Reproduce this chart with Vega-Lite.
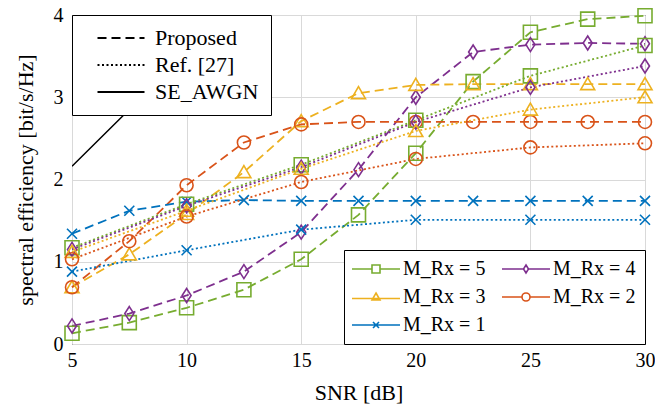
{
  "$schema": "https://vega.github.io/schema/vega-lite/v6.json",
  "width": 573,
  "height": 329,
  "autosize": "none",
  "padding": {"left": 72, "top": 15, "right": 10, "bottom": 70},
  "background": "white",
  "config": {
    "view": {"stroke": "black", "strokeWidth": 1},
    "font": "Liberation Serif, DejaVu Serif, serif",
    "axis": {
      "labelFont": "Liberation Serif, DejaVu Serif, serif", "labelFontSize": 20, "labelColor": "black",
      "titleFont": "Liberation Serif, DejaVu Serif, serif", "titleFontSize": 22, "titleFontWeight": "normal", "titleColor": "black",
      "gridColor": "#d9d9d9", "gridWidth": 1, "domain": false, "ticks": false
    },
    "legend": {"labelFont": "Liberation Serif, DejaVu Serif, serif", "labelColor": "black"}
  },
  "resolve": {"scale": {"color": "independent", "shape": "independent"}},
  "data": {"values": [
    {"snr": 5, "se": 0.13, "M": "M_Rx = 5", "method": "Proposed"},
    {"snr": 7.5, "se": 0.26, "M": "M_Rx = 5", "method": "Proposed"},
    {"snr": 10, "se": 0.44, "M": "M_Rx = 5", "method": "Proposed"},
    {"snr": 12.5, "se": 0.66, "M": "M_Rx = 5", "method": "Proposed"},
    {"snr": 15, "se": 1.03, "M": "M_Rx = 5", "method": "Proposed"},
    {"snr": 17.5, "se": 1.57, "M": "M_Rx = 5", "method": "Proposed"},
    {"snr": 20, "se": 2.32, "M": "M_Rx = 5", "method": "Proposed"},
    {"snr": 22.5, "se": 3.19, "M": "M_Rx = 5", "method": "Proposed"},
    {"snr": 25, "se": 3.79, "M": "M_Rx = 5", "method": "Proposed"},
    {"snr": 27.5, "se": 3.95, "M": "M_Rx = 5", "method": "Proposed"},
    {"snr": 30, "se": 3.99, "M": "M_Rx = 5", "method": "Proposed"},
    {"snr": 5, "se": 0.22, "M": "M_Rx = 4", "method": "Proposed"},
    {"snr": 7.5, "se": 0.37, "M": "M_Rx = 4", "method": "Proposed"},
    {"snr": 10, "se": 0.59, "M": "M_Rx = 4", "method": "Proposed"},
    {"snr": 12.5, "se": 0.88, "M": "M_Rx = 4", "method": "Proposed"},
    {"snr": 15, "se": 1.36, "M": "M_Rx = 4", "method": "Proposed"},
    {"snr": 17.5, "se": 2.12, "M": "M_Rx = 4", "method": "Proposed"},
    {"snr": 20, "se": 3.0, "M": "M_Rx = 4", "method": "Proposed"},
    {"snr": 22.5, "se": 3.55, "M": "M_Rx = 4", "method": "Proposed"},
    {"snr": 25, "se": 3.64, "M": "M_Rx = 4", "method": "Proposed"},
    {"snr": 27.5, "se": 3.66, "M": "M_Rx = 4", "method": "Proposed"},
    {"snr": 30, "se": 3.65, "M": "M_Rx = 4", "method": "Proposed"},
    {"snr": 5, "se": 0.69, "M": "M_Rx = 3", "method": "Proposed"},
    {"snr": 7.5, "se": 1.09, "M": "M_Rx = 3", "method": "Proposed"},
    {"snr": 10, "se": 1.58, "M": "M_Rx = 3", "method": "Proposed"},
    {"snr": 12.5, "se": 2.09, "M": "M_Rx = 3", "method": "Proposed"},
    {"snr": 15, "se": 2.71, "M": "M_Rx = 3", "method": "Proposed"},
    {"snr": 17.5, "se": 3.05, "M": "M_Rx = 3", "method": "Proposed"},
    {"snr": 20, "se": 3.15, "M": "M_Rx = 3", "method": "Proposed"},
    {"snr": 22.5, "se": 3.16, "M": "M_Rx = 3", "method": "Proposed"},
    {"snr": 25, "se": 3.16, "M": "M_Rx = 3", "method": "Proposed"},
    {"snr": 27.5, "se": 3.16, "M": "M_Rx = 3", "method": "Proposed"},
    {"snr": 30, "se": 3.16, "M": "M_Rx = 3", "method": "Proposed"},
    {"snr": 5, "se": 0.69, "M": "M_Rx = 2", "method": "Proposed"},
    {"snr": 7.5, "se": 1.25, "M": "M_Rx = 2", "method": "Proposed"},
    {"snr": 10, "se": 1.93, "M": "M_Rx = 2", "method": "Proposed"},
    {"snr": 12.5, "se": 2.45, "M": "M_Rx = 2", "method": "Proposed"},
    {"snr": 15, "se": 2.67, "M": "M_Rx = 2", "method": "Proposed"},
    {"snr": 17.5, "se": 2.7, "M": "M_Rx = 2", "method": "Proposed"},
    {"snr": 20, "se": 2.7, "M": "M_Rx = 2", "method": "Proposed"},
    {"snr": 22.5, "se": 2.7, "M": "M_Rx = 2", "method": "Proposed"},
    {"snr": 25, "se": 2.7, "M": "M_Rx = 2", "method": "Proposed"},
    {"snr": 27.5, "se": 2.7, "M": "M_Rx = 2", "method": "Proposed"},
    {"snr": 30, "se": 2.7, "M": "M_Rx = 2", "method": "Proposed"},
    {"snr": 5, "se": 1.34, "M": "M_Rx = 1", "method": "Proposed"},
    {"snr": 7.5, "se": 1.62, "M": "M_Rx = 1", "method": "Proposed"},
    {"snr": 10, "se": 1.73, "M": "M_Rx = 1", "method": "Proposed"},
    {"snr": 12.5, "se": 1.75, "M": "M_Rx = 1", "method": "Proposed"},
    {"snr": 15, "se": 1.74, "M": "M_Rx = 1", "method": "Proposed"},
    {"snr": 17.5, "se": 1.74, "M": "M_Rx = 1", "method": "Proposed"},
    {"snr": 20, "se": 1.74, "M": "M_Rx = 1", "method": "Proposed"},
    {"snr": 22.5, "se": 1.74, "M": "M_Rx = 1", "method": "Proposed"},
    {"snr": 25, "se": 1.74, "M": "M_Rx = 1", "method": "Proposed"},
    {"snr": 27.5, "se": 1.74, "M": "M_Rx = 1", "method": "Proposed"},
    {"snr": 30, "se": 1.74, "M": "M_Rx = 1", "method": "Proposed"},
    {"snr": 5, "se": 1.17, "M": "M_Rx = 5", "method": "Ref. [27]"},
    {"snr": 10, "se": 1.7, "M": "M_Rx = 5", "method": "Ref. [27]"},
    {"snr": 15, "se": 2.18, "M": "M_Rx = 5", "method": "Ref. [27]"},
    {"snr": 20, "se": 2.72, "M": "M_Rx = 5", "method": "Ref. [27]"},
    {"snr": 25, "se": 3.26, "M": "M_Rx = 5", "method": "Ref. [27]"},
    {"snr": 30, "se": 3.63, "M": "M_Rx = 5", "method": "Ref. [27]"},
    {"snr": 5, "se": 1.15, "M": "M_Rx = 4", "method": "Ref. [27]"},
    {"snr": 10, "se": 1.68, "M": "M_Rx = 4", "method": "Ref. [27]"},
    {"snr": 15, "se": 2.15, "M": "M_Rx = 4", "method": "Ref. [27]"},
    {"snr": 20, "se": 2.7, "M": "M_Rx = 4", "method": "Ref. [27]"},
    {"snr": 25, "se": 3.12, "M": "M_Rx = 4", "method": "Ref. [27]"},
    {"snr": 30, "se": 3.38, "M": "M_Rx = 4", "method": "Ref. [27]"},
    {"snr": 5, "se": 1.12, "M": "M_Rx = 3", "method": "Ref. [27]"},
    {"snr": 10, "se": 1.62, "M": "M_Rx = 3", "method": "Ref. [27]"},
    {"snr": 15, "se": 2.13, "M": "M_Rx = 3", "method": "Ref. [27]"},
    {"snr": 20, "se": 2.59, "M": "M_Rx = 3", "method": "Ref. [27]"},
    {"snr": 25, "se": 2.85, "M": "M_Rx = 3", "method": "Ref. [27]"},
    {"snr": 30, "se": 3.0, "M": "M_Rx = 3", "method": "Ref. [27]"},
    {"snr": 5, "se": 1.03, "M": "M_Rx = 2", "method": "Ref. [27]"},
    {"snr": 10, "se": 1.55, "M": "M_Rx = 2", "method": "Ref. [27]"},
    {"snr": 15, "se": 1.97, "M": "M_Rx = 2", "method": "Ref. [27]"},
    {"snr": 20, "se": 2.25, "M": "M_Rx = 2", "method": "Ref. [27]"},
    {"snr": 25, "se": 2.39, "M": "M_Rx = 2", "method": "Ref. [27]"},
    {"snr": 30, "se": 2.44, "M": "M_Rx = 2", "method": "Ref. [27]"},
    {"snr": 5, "se": 0.88, "M": "M_Rx = 1", "method": "Ref. [27]"},
    {"snr": 10, "se": 1.14, "M": "M_Rx = 1", "method": "Ref. [27]"},
    {"snr": 15, "se": 1.39, "M": "M_Rx = 1", "method": "Ref. [27]"},
    {"snr": 20, "se": 1.51, "M": "M_Rx = 1", "method": "Ref. [27]"},
    {"snr": 25, "se": 1.51, "M": "M_Rx = 1", "method": "Ref. [27]"},
    {"snr": 30, "se": 1.51, "M": "M_Rx = 1", "method": "Ref. [27]"},
    {"snr": 5, "se": 2.16, "M": "none", "method": "SE_AWGN"},
    {"snr": 7.5, "se": 2.85, "M": "none", "method": "SE_AWGN"},
    {"snr": 10, "se": 3.6, "M": "none", "method": "SE_AWGN"},
    {"snr": 12.5, "se": 4.4, "M": "none", "method": "SE_AWGN"}
  ]},
  "encoding": {
    "x": {"field": "snr", "type": "quantitative",
      "scale": {"domain": [5, 30], "nice": false, "zero": false},
      "axis": {"values": [5, 10, 15, 20, 25, 30], "title": "SNR [dB]", "labelPadding": 6, "titlePadding": 12, "labelFlush": false}},
    "y": {"field": "se", "type": "quantitative",
      "scale": {"domain": [0, 4], "nice": false},
      "axis": {"values": [0, 1, 2, 3, 4], "title": "spectral efficiency [bit/s/Hz]", "labelPadding": 9, "titlePadding": 16}}
  },
  "layer": [
    {
      "transform": [{"filter": "datum.method === 'SE_AWGN'"}],
      "mark": {"type": "line", "clip": true, "strokeWidth": 1.5, "color": "black"},
      "encoding": {}
    },
    {
      "transform": [{"filter": "datum.method !== 'SE_AWGN'"}],
      "mark": {"type": "line", "strokeWidth": 1.8},
      "encoding": {
        "detail": {"field": "M"},
        "color": {"field": "M", "type": "nominal", "legend": null,
          "scale": {"domain": ["M_Rx = 5", "M_Rx = 4", "M_Rx = 3", "M_Rx = 2", "M_Rx = 1"],
            "range": ["#77AC30", "#7E2F8E", "#EDB120", "#D95319", "#0072BD"]}},
        "strokeDash": {"field": "method", "type": "nominal",
          "scale": {"domain": ["Proposed", "Ref. [27]", "SE_AWGN"], "range": [[9, 5], [2, 2.5], [1, 0]]},
          "legend": {
            "orient": "top-left", "offset": 0, "title": null, "padding": 12,
            "fillColor": "white", "strokeColor": "black",
            "symbolType": "M-4.7,0H4.7", "symbolSize": 100, "symbolStrokeWidth": 1.8,
            "symbolStrokeColor": "black", "symbolOffset": 26, "labelOffset": 23,
            "labelFontSize": 22, "rowPadding": 5,
            "encode": {"symbols": {"update": {"stroke": {"value": "black"}}}}
          }}
      }
    },
    {
      "transform": [{"filter": "datum.method !== 'SE_AWGN'"}],
      "mark": {"type": "point", "filled": false, "strokeWidth": 1.6, "size": 100, "opacity": 1},
      "encoding": {
        "shape": {"field": "M", "type": "nominal", "legend": null,
          "scale": {"domain": ["M_Rx = 5", "M_Rx = 4", "M_Rx = 3", "M_Rx = 2", "M_Rx = 1"],
            "range": ["M-1.4,-1.4H1.4V1.4H-1.4Z", "M0,-1.4L0.9,0L0,1.4L-0.9,0Z", "M0,-1.3L1.4,1.1H-1.4Z", "M1.3,0A1.3,1.3,0,1,1,-1.3,0A1.3,1.3,0,1,1,1.3,0Z", "M-1,-1L1,1M-1,1L1,-1"]}},
        "color": {"field": "M", "type": "nominal", "legend": null,
          "scale": {"domain": ["M_Rx = 5", "M_Rx = 4", "M_Rx = 3", "M_Rx = 2", "M_Rx = 1"],
            "range": ["#77AC30", "#7E2F8E", "#EDB120", "#D95319", "#0072BD"]}}
      }
    },
    {
      "transform": [{"filter": "datum.method === 'none'"}],
      "mark": {"type": "point", "filled": false, "strokeWidth": 1.6, "size": 100, "opacity": 1},
      "encoding": {
        "shape": {"field": "M", "type": "nominal",
          "scale": {"domain": ["M_Rx = 5", "M_Rx = 4", "M_Rx = 3", "M_Rx = 2", "M_Rx = 1"],
            "range": ["M-4.8,0H-0.8M0.8,0H4.8M-0.8,-0.8H0.8V0.8H-0.8Z", "M-4.8,0H-0.5M0.5,0H4.8M0,-0.8L0.5,0L0,0.8L-0.5,0Z", "M-4.8,0.3H4.8M0,-0.8L0.8,0.6H-0.8Z", "M-4.8,0H-0.8M0.8,0H4.8M0.8,0A0.8,0.8,0,1,1,-0.8,0A0.8,0.8,0,1,1,0.8,0Z", "M-4.8,0H4.8M-0.6,-0.6L0.6,0.6M-0.6,0.6L0.6,-0.6"]}},
        "color": {"field": "M", "type": "nominal",
          "scale": {"domain": ["M_Rx = 5", "M_Rx = 4", "M_Rx = 3", "M_Rx = 2", "M_Rx = 1"],
            "range": ["#77AC30", "#7E2F8E", "#EDB120", "#D95319", "#0072BD"]},
          "legend": {
            "orient": "bottom-right", "offset": 0, "title": null, "columns": 2, "direction": "horizontal", "padding": 9,
            "fillColor": "white", "strokeColor": "black",
            "symbolSize": 100, "symbolStrokeWidth": 1.6, "symbolOffset": 13, "labelOffset": 17,
            "labelFontSize": 20, "rowPadding": 8, "columnPadding": 12
          }}
      }
    }
  ]
}
